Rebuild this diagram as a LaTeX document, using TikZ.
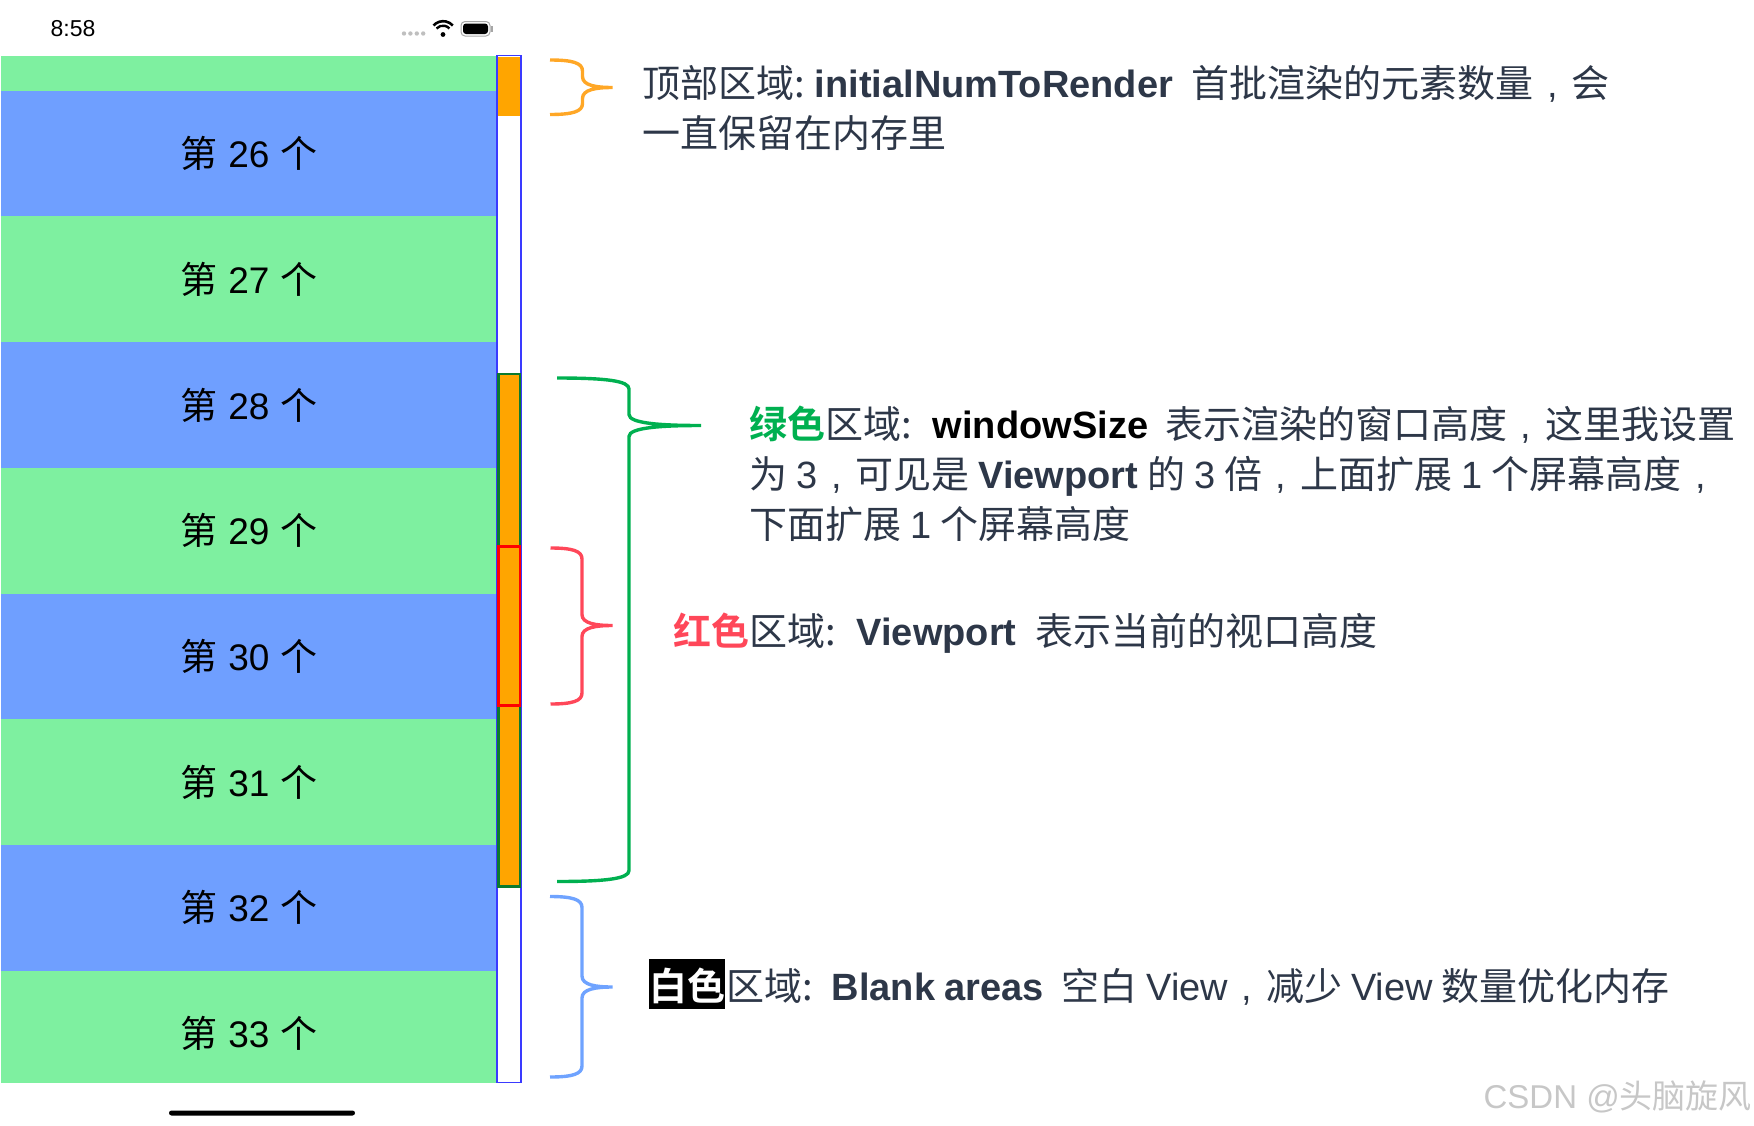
\documentclass[tikz,border=0pt]{standalone}
\usepackage{fontspec}
\setmainfont{Liberation Sans}
\newfontfamily\cjk{Noto Sans CJK SC}[BoldFont={* Bold}]
\newcommand{\zh}[1]{{\cjk #1}}
\newcommand{\dou}{\makebox[38pt][c]{,}}
\newcommand{\wordgap}{\hspace{19pt}}
\newcommand{\rowfont}{\fontsize{37}{40}\selectfont\setlength{\spaceskip}{11pt}}
\newcommand{\notefont}{\fontsize{38}{40}\selectfont\setlength{\spaceskip}{9pt}}
\usetikzlibrary{positioning}
\usetikzlibrary{arrows.meta}

\definecolor{rowgreen}{HTML}{7EF0A0}
\definecolor{rowblue}{HTML}{6F9FFF}
\definecolor{barblue}{HTML}{3A3AFF}
\definecolor{barorange}{HTML}{FFA500}
\definecolor{bargreen}{HTML}{0B7A2E}
\definecolor{bracegreen}{HTML}{00B050}
\definecolor{bracered}{HTML}{FF4759}
\definecolor{braceblue}{HTML}{6FA3FF}
\definecolor{braceorange}{HTML}{FFA726}
\definecolor{notetext}{HTML}{2D3748}

% x0, y top, spine x, tip x, tip y, y bottom
\newcommand{\regionbrace}[7]{
  \draw[bracepath, draw=#1]
    (#2,#3) .. controls ({#2+0.7*(#4-#2)},#3) and (#4,{#3+3}) .. (#4,{#3+11})
    -- (#4,{#6-11}) .. controls (#4,{#6-2}) and ({#4+0.45*(#5-#4)},#6) .. (#5,#6)
    .. controls ({#4+0.45*(#5-#4)},#6) and (#4,{#6+2}) .. (#4,{#6+11})
    -- (#4,{#7-11}) .. controls (#4,{#7-3}) and ({#2+0.7*(#4-#2)},#7) .. (#2,#7);
}

\begin{document}
\begin{tikzpicture}[
  x = 1pt,
  y = -1pt,
  rowbox/.style = {
    rectangle,
    inner sep = 0pt,
    outer sep = 0pt,
    minimum width = 495.5pt,
    minimum height = 125.7pt,
  },
  rowtext/.style = {
    text = black,
    font = \rowfont,
  },
  barbox/.style = {
    rectangle,
    inner sep = 0pt,
    outer sep = 0pt,
    anchor = north,
    minimum width = 21.5pt,
  },
  notetext/.style = {
    anchor = base west,
    inner sep = 0pt,
    text = notetext,
    font = \notefont,
  },
  bracepath/.style = {
    line width = 3.4pt,
    line cap = butt,
  },
]

  \useasboundingbox (0,0) rectangle (1754,1125);

  % status bar
  \node[inner sep=0pt, font=\fontsize{23}{24}\selectfont] (clock) at (73,29) {8:58};
  \foreach \i in {0,1,2,3} {
    \fill[black!25] ({404+6.4*\i},33.5) circle (2.2);
  }
  \fill[black] (443,34.5) circle (2.4);
  \draw[black, line width=2.4pt] (436.5,28.5) arc[start angle=222, end angle=318, radius=8.7];
  \draw[black, line width=2.6pt] (433.5,25.5) arc[start angle=222, end angle=318, radius=13];
  \draw[black!35, line width=1pt, rounded corners=4pt] (461,21.5) rectangle (490,36);
  \fill[black, rounded corners=3pt] (463,23.5) rectangle (488,34);
  \fill[black!35] (491,26) rectangle (492.5,31.5);

  % list rows
  \node[rowbox, fill=rowgreen, minimum height=35.2pt, anchor=north] (row25) at (249,55.5) {};
  \foreach \n/\p/\c in {26/25/rowblue,27/26/rowgreen,28/27/rowblue,29/28/rowgreen,
                        30/29/rowblue,31/30/rowgreen,32/31/rowblue} {
    \node[rowbox, rowtext, fill=\c, below=0pt of row\p] (row\n) {\zh{第} \n{} \zh{个}};
  }
  \node[rowbox, fill=rowgreen, minimum height=112pt, below=0pt of row32] (row33) {};
  \node[rowtext, inner sep=0pt] (label33) at ([yshift=-62.85pt]row33.north) {\zh{第} 33 \zh{个}};

  % side bar
  \node[barbox, draw=barblue, fill=white, line width=1.5pt, minimum width=24pt, minimum height=1027pt] (sidebar) at (509,55.5) {};
  \node[barbox, fill=barorange, minimum height=59pt] (topbar) at (509,57) {};
  \node[barbox, draw=bargreen, fill=barorange, line width=2.5pt, minimum height=512.5pt] (windowbar) at (509,374) {};
  \node[barbox, draw=red, line width=2.5pt, minimum height=159pt] (viewbar) at (509,546.5) {};

  % braces
  \regionbrace{braceorange}{550}{60}{582.5}{612.5}{87.5}{114.5}
  \regionbrace{bracegreen}{557}{378}{629}{701}{425.5}{881.5}
  \regionbrace{bracered}{550.5}{548}{582}{612.5}{625.5}{704}
  \regionbrace{braceblue}{550}{896.5}{582}{612.5}{987}{1077}

  % notes
  \node[notetext] (topnote) at (642,97) {\zh{顶部区域:}\hspace{10pt}\textbf{initialNumToRender}\wordgap\zh{首批渲染的元素数量}\dou\zh{会}};
  \node[notetext] (topnote2) at (642,147) {\zh{一直保留在内存里}};

  \node[notetext] (greennote) at (749,438) {{\cjk\bfseries\color{bracegreen}绿色}\zh{区域:}\hspace{21pt}{\color{black}\textbf{windowSize}}\hspace{17pt}\zh{表示渲染的窗口高度}\dou\zh{这里我设置}};
  \node[notetext] (greennote2) at (749,488) {\zh{为} 3\dou\zh{可见是} \textbf{Viewport} \zh{的} 3 \zh{倍}\dou\zh{上面扩展} 1 \zh{个屏幕高度}\dou};
  \node[notetext] (greennote3) at (749,538) {\zh{下面扩展} 1 \zh{个屏幕高度}};

  \node[notetext] (rednote) at (673,645) {{\cjk\bfseries\color{bracered}红色}\zh{区域:}\hspace{21pt}\textbf{Viewport}\wordgap\zh{表示当前的视口高度}};

  \node[fill=black, inner sep=0pt, minimum width=76pt, minimum height=50pt, anchor=north west] (whitetag) at (649,959) {};
  \node[notetext, text=white] (whiteword) at (649,1000) {\cjk\bfseries 白色};
  \node[notetext] (whitenote) at (726,1000) {\zh{区域:}\hspace{19pt}\textbf{Blank areas}\hspace{18pt}\zh{空白} View\dou\zh{减少} View \zh{数量优化内存}};

  % watermark
  \node[anchor=base east, inner sep=0pt, text=black!22, font=\fontsize{33}{36}\selectfont] (mark) at (1752,1108) {CSDN @\zh{头脑旋风}};

  % home indicator
  \fill[black, rounded corners=2.5pt] (169,1110.5) rectangle (355,1115.5);

\end{tikzpicture}
\end{document}
